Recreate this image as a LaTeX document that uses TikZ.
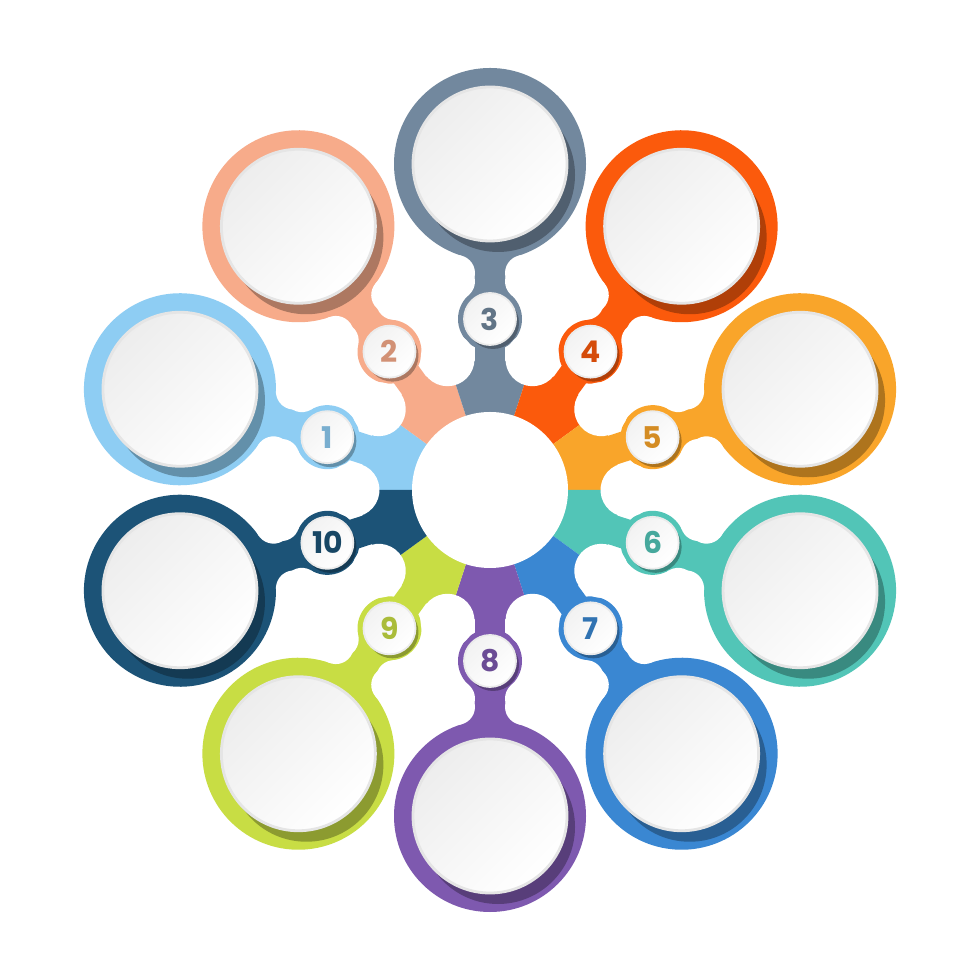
\documentclass[tikz,border=0pt]{standalone}
\usepackage{fontspec}
\newfontfamily\numfont{Poppins}
\definecolor{cone}{HTML}{8ECDF3}
\definecolor{ctwo}{HTML}{F7AB8A}
\definecolor{cthree}{HTML}{72889E}
\definecolor{cfour}{HTML}{FB5A0C}
\definecolor{cfive}{HTML}{F9A52A}
\definecolor{csix}{HTML}{52C5B7}
\definecolor{cseven}{HTML}{3A87D2}
\definecolor{ceight}{HTML}{7E59AF}
\definecolor{cnine}{HTML}{C8DD44}
\definecolor{cten}{HTML}{1C5377}
\begin{document}
\begin{tikzpicture}[
        x=0.01cm, y=0.01cm,
        font=\numfont\bfseries\fontsize{8.5}{10}\selectfont
    ]
    \tikzset{
        face/.style = {top color=black!7, bottom color=white, shading angle=45, draw=black!10, line width=0.8pt},
        badge/.style = {circle, top color=black!5, bottom color=white, shading angle=45, draw=black!8, line width=0.5pt, minimum size=0.52cm, inner sep=0pt},
        cutter/.style = {fill=white},
    }
    \fill[white] (-490,-490) rectangle (490,490);
    \useasboundingbox (-490,-490) rectangle (490,490);
    %
    \foreach \ang/\col in {162/cone, 126/ctwo, 90/cthree, 54/cfour, 18/cfive, -18/csix, -54/cseven, -90/ceight, -126/cnine, -162/cten} {
        \begin{scope}[rotate=\ang]
            \fill[\col] (0,0) -- (-18:130) arc[start angle=-18, end angle=18, radius=130] -- cycle;
            \fill[\col] (100,-15) rectangle (260,15);
            \fill[\col] (171,0) circle[radius=32];
            \fill[\col] (326,0) circle[radius=96];
            \fill[\col] (180,0) -- (195.1,21.1) -- (208.6,33) -- (216.9,33) -- (234.1,27.8) -- (260,0)
                -- (234.1,-27.8) -- (216.9,-33) -- (208.6,-33) -- (195.1,-21.1) -- cycle;
        \end{scope}
    }
    %
    \foreach \ang in {162,126,...,-162} {
        \begin{scope}[rotate=\ang]
            \fill[cutter] (18:137.5) circle[radius=27];
            \fill[cutter] (208.6,33) circle[radius=18];
            \fill[cutter] (208.6,-33) circle[radius=18];
            \fill[cutter] (216.9,33) circle[radius=18];
            \fill[cutter] (216.9,-33) circle[radius=18];
        \end{scope}
    }
    %
    \foreach \ang/\col in {162/cone, 126/ctwo, 90/cthree, 54/cfour, 18/cfive, -18/csix, -54/cseven, -90/ceight, -126/cnine, -162/cten} {
        \fill[\col!70!black, shift={(8,-11)}] (\ang:326) circle[radius=77];
        \shade[face] (\ang:326) circle[radius=77];
        \fill[\col!70!black, shift={(3,-4)}] (\ang:171) circle[radius=26];
    }
    \fill[white] (0,0) circle[radius=78];
    %
    \node[badge, text=cone!85!black] at (162:171) (b1) {1};
    \node[badge, text=ctwo!85!black] at (126:171) (b2) {2};
    \node[badge, text=cthree!85!black] at (90:171) (b3) {3};
    \node[badge, text=cfour!85!black] at (54:171) (b4) {4};
    \node[badge, text=cfive!85!black] at (18:171) (b5) {5};
    \node[badge, text=csix!85!black] at (-18:171) (b6) {6};
    \node[badge, text=cseven!85!black] at (-54:171) (b7) {7};
    \node[badge, text=ceight!85!black] at (-90:171) (b8) {8};
    \node[badge, text=cnine!85!black] at (-126:171) (b9) {9};
    \node[badge, text=cten!85!black] at (-162:171) (b10) {10};
\end{tikzpicture}
\end{document}
